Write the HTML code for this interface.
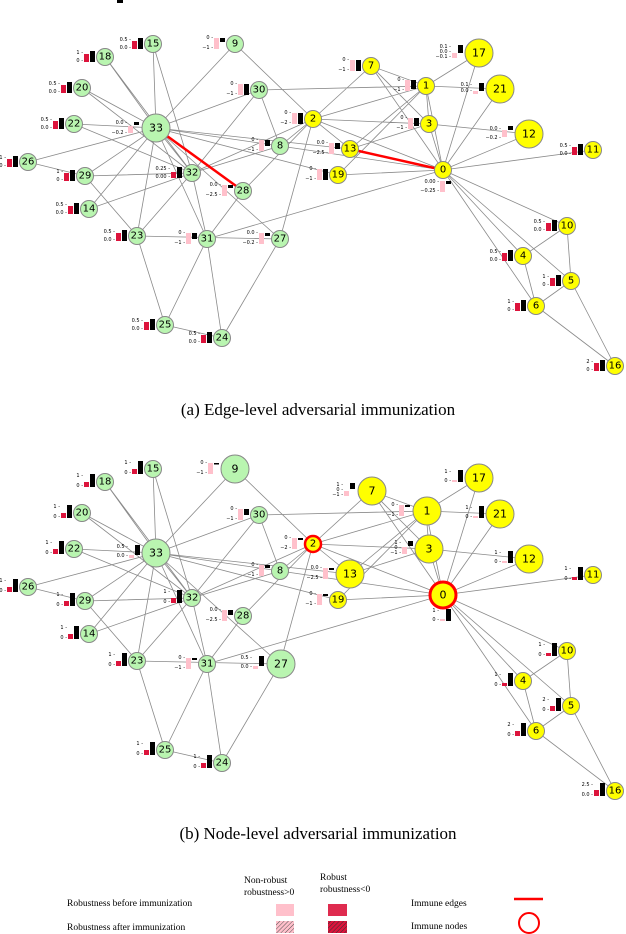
<!DOCTYPE html>
<html><head><meta charset="utf-8"><style>
body{margin:0;background:#fff}
svg{display:block}
.e{stroke:#8a8a8a;stroke-width:0.8;fill:none}
.g{fill:#b9f5b0;stroke:#888;stroke-width:1}
.y{fill:#ffff00;stroke:#888;stroke-width:1}
.n{font-family:"DejaVu Sans",sans-serif;font-size:10px;text-anchor:middle;dominant-baseline:central;fill:#000}
.b{font-size:11px}
.c{fill:#dc143c}.k{fill:#000}.p{fill:#ffc0cb}
.t{font-family:"DejaVu Sans",sans-serif;font-size:5px;text-anchor:end;fill:#000}
.cap{font-family:"Liberation Serif",serif;font-size:17px;text-anchor:middle}
.lg{font-family:"Liberation Serif",serif;font-size:9.5px}
</style></head><body>
<svg width="626" height="934" viewBox="0 0 626 934" xmlns="http://www.w3.org/2000/svg">
<defs>
<pattern id="h1" width="3" height="3" patternUnits="userSpaceOnUse" patternTransform="rotate(45)"><rect width="3" height="3" fill="#ffc0cb"/><line x1="0" y1="0" x2="0" y2="3" stroke="#555" stroke-width="1"/></pattern>
<pattern id="h2" width="3" height="3" patternUnits="userSpaceOnUse" patternTransform="rotate(45)"><rect width="3" height="3" fill="#dc143c"/><line x1="0" y1="0" x2="0" y2="3" stroke="#333" stroke-width="1"/></pattern>
<g id="E">
<path class="e" d="M443 170L426 86M443 170L313 119M443 170L429 124M443 170L523 256M443 170L571 281M443 170L536 306M443 170L371 66M443 170L280 146M443 170L567 226M443 170L593 150M443 170L529 134M443 170L479 53M443 170L338 175M443 170L500 89M443 170L207 239
M426 86L313 119M426 86L429 124M426 86L371 66M426 86L350 149M426 86L479 53M426 86L338 175M426 86L500 89M426 86L259 90
M313 119L429 124M313 119L371 66M313 119L280 146M313 119L235 44M313 119L350 149M313 119L280 239M313 119L243 191M313 119L192 173
M429 124L371 66M429 124L529 134M429 124L350 149
M523 256L536 306M523 256L567 226M571 281L536 306M571 281L567 226M571 281L615 366M536 306L615 366
M280 146L259 90M280 146L192 173M280 146L156 128M235 44L156 128M350 149L156 128
M89 209L192 173M89 209L156 128M153 44L192 173M153 44L156 128M105 57L192 173M105 57L156 128M338 175L156 128
M82 88L192 173M82 88L156 128M74 124L192 173M74 124L156 128
M137 236L165 325M137 236L280 239M137 236L85 176M137 236L192 173M137 236L156 128
M222 338L165 325M222 338L280 239M222 338L207 239M165 325L207 239
M28 162L85 176M28 162L156 128M280 239L156 128M243 191L207 239
M85 176L192 173M85 176L156 128M259 90L192 173M259 90L156 128M207 239L192 173M207 239L156 128M192 173L156 128"/>
</g>
</defs>

<!-- ===== TOP GRAPH ===== -->
<rect x="117" y="0" width="6" height="3" fill="#000"/>
<use href="#E"/>
<line x1="156" y1="128" x2="243" y2="191" stroke="#f00" stroke-width="2.5"/>
<line x1="350" y1="149" x2="443" y2="170" stroke="#f00" stroke-width="2.5"/>

<g class="t">
<!-- positive glyphs -->
<g transform="translate(143,44)"><rect class="c" x="-11" y="-3" width="5" height="8"/><rect class="k" x="-5" y="-6" width="5" height="11"/><text x="-12" y="-3">0.5 -</text><text x="-12" y="5">0.0 -</text></g>
<g transform="translate(95,57)"><rect class="c" x="-11" y="-3" width="5" height="8"/><rect class="k" x="-5" y="-6" width="5" height="11"/><text x="-12" y="-3">1 -</text><text x="-12" y="5">0 -</text></g>
<g transform="translate(72,88)"><rect class="c" x="-11" y="-3" width="5" height="8"/><rect class="k" x="-5" y="-6" width="5" height="11"/><text x="-12" y="-3">0.5 -</text><text x="-12" y="5">0.0 -</text></g>
<g transform="translate(64,124)"><rect class="c" x="-11" y="-3" width="5" height="8"/><rect class="k" x="-5" y="-6" width="5" height="11"/><text x="-12" y="-3">0.5 -</text><text x="-12" y="5">0.0 -</text></g>
<g transform="translate(18,162)"><rect class="c" x="-11" y="-3" width="5" height="8"/><rect class="k" x="-5" y="-6" width="5" height="11"/><text x="-12" y="-3">1 -</text><text x="-12" y="5">0.0 -</text></g>
<g transform="translate(75,176)"><rect class="c" x="-11" y="-3" width="5" height="8"/><rect class="k" x="-5" y="-6" width="5" height="11"/><text x="-12" y="-3">1 -</text><text x="-12" y="5">0 -</text></g>
<g transform="translate(79,209)"><rect class="c" x="-11" y="-3" width="5" height="8"/><rect class="k" x="-5" y="-6" width="5" height="11"/><text x="-12" y="-3">0.5 -</text><text x="-12" y="5">0.0 -</text></g>
<g transform="translate(127,236)"><rect class="c" x="-11" y="-3" width="5" height="8"/><rect class="k" x="-5" y="-6" width="5" height="11"/><text x="-12" y="-3">0.5 -</text><text x="-12" y="5">0.0 -</text></g>
<g transform="translate(155,325)"><rect class="c" x="-11" y="-3" width="5" height="8"/><rect class="k" x="-5" y="-6" width="5" height="11"/><text x="-12" y="-3">0.5 -</text><text x="-12" y="5">0.0 -</text></g>
<g transform="translate(212,338)"><rect class="c" x="-11" y="-3" width="5" height="8"/><rect class="k" x="-5" y="-6" width="5" height="11"/><text x="-12" y="-3">0.5 -</text><text x="-12" y="5">0.0 -</text></g>
<g transform="translate(182,173)"><rect class="c" x="-11" y="-1" width="5" height="6"/><rect class="k" x="-5" y="-6" width="5" height="11"/><text x="-12" y="-3">0.25 -</text><text x="-12" y="5">0.00 -</text></g>
<g transform="translate(583,150)"><rect class="c" x="-11" y="-3" width="5" height="8"/><rect class="k" x="-5" y="-6" width="5" height="11"/><text x="-12" y="-3">0.5 -</text><text x="-12" y="5">0.0 -</text></g>
<g transform="translate(557,226)"><rect class="c" x="-11" y="-3" width="5" height="8"/><rect class="k" x="-5" y="-6" width="5" height="11"/><text x="-12" y="-3">0.5 -</text><text x="-12" y="5">0.0 -</text></g>
<g transform="translate(513,256)"><rect class="c" x="-11" y="-3" width="5" height="8"/><rect class="k" x="-5" y="-6" width="5" height="11"/><text x="-12" y="-3">0.5 -</text><text x="-12" y="5">0.0 -</text></g>
<g transform="translate(561,281)"><rect class="c" x="-11" y="-3" width="5" height="8"/><rect class="k" x="-5" y="-6" width="5" height="11"/><text x="-12" y="-3">1 -</text><text x="-12" y="5">0 -</text></g>
<g transform="translate(526,306)"><rect class="c" x="-11" y="-3" width="5" height="8"/><rect class="k" x="-5" y="-6" width="5" height="11"/><text x="-12" y="-3">1 -</text><text x="-12" y="5">0 -</text></g>
<g transform="translate(605,366)"><rect class="c" x="-11" y="-3" width="5" height="8"/><rect class="k" x="-5" y="-6" width="5" height="11"/><text x="-12" y="-3">2 -</text><text x="-12" y="5">0 -</text></g>
<!-- negative glyphs -->
<g transform="translate(225,44)"><rect class="p" x="-11" y="-6" width="5" height="11"/><rect class="k" x="-5" y="-6" width="5" height="4"/><text x="-12" y="-5">0 -</text><text x="-12" y="5">−1 -</text></g>
<g transform="translate(249,90)"><rect class="p" x="-11" y="-6" width="5" height="11"/><rect class="k" x="-5" y="-6" width="5" height="11"/><text x="-12" y="-5">0 -</text><text x="-12" y="5">−1 -</text></g>
<g transform="translate(303,119)"><rect class="p" x="-11" y="-6" width="5" height="11"/><rect class="k" x="-5" y="-6" width="5" height="11"/><text x="-12" y="-5">0 -</text><text x="-12" y="5">−2 -</text></g>
<g transform="translate(270,146)"><rect class="p" x="-11" y="-6" width="5" height="11"/><rect class="k" x="-5" y="-6" width="5" height="6"/><text x="-12" y="-5">0 -</text><text x="-12" y="5">−1 -</text></g>
<g transform="translate(233,191)"><rect class="p" x="-11" y="-6" width="5" height="11"/><rect class="k" x="-5" y="-6" width="5" height="3"/><text x="-12" y="-5">0.0 -</text><text x="-12" y="5">−2.5 -</text></g>
<g transform="translate(197,239)"><rect class="p" x="-11" y="-6" width="5" height="11"/><rect class="k" x="-5" y="-6" width="5" height="6"/><text x="-12" y="-5">0 -</text><text x="-12" y="5">−1 -</text></g>
<g transform="translate(270,239)"><rect class="p" x="-11" y="-6" width="5" height="11"/><rect class="k" x="-5" y="-6" width="5" height="3"/><text x="-12" y="-5">0.0 -</text><text x="-12" y="5">−0.2 -</text></g>
<g transform="translate(340,149)"><rect class="p" x="-11" y="-6" width="5" height="11"/><rect class="k" x="-5" y="-6" width="5" height="6"/><text x="-12" y="-5">0.0 -</text><text x="-12" y="5">−2.5 -</text></g>
<g transform="translate(328,175)"><rect class="p" x="-11" y="-6" width="5" height="11"/><rect class="k" x="-5" y="-6" width="5" height="11"/><text x="-12" y="-5">0 -</text><text x="-12" y="5">−1 -</text></g>
<g transform="translate(361,66)"><rect class="p" x="-11" y="-6" width="5" height="11"/><rect class="k" x="-5" y="-6" width="5" height="11"/><text x="-12" y="-5">0 -</text><text x="-12" y="5">−1 -</text></g>
<g transform="translate(416,86)"><rect class="p" x="-11" y="-6" width="5" height="11"/><rect class="k" x="-5" y="-6" width="5" height="9"/><text x="-12" y="-5">0 -</text><text x="-12" y="5">−1 -</text></g>
<g transform="translate(419,124)"><rect class="p" x="-11" y="-6" width="5" height="11"/><rect class="k" x="-5" y="-6" width="5" height="8"/><text x="-12" y="-5">0 -</text><text x="-12" y="5">−1 -</text></g>
<g transform="translate(513,134)"><rect class="p" x="-11" y="-4" width="5" height="7"/><rect class="k" x="-5" y="-8" width="5" height="4"/><text x="-12" y="-4">0.0 -</text><text x="-12" y="5">−0.2 -</text></g>
<g transform="translate(463,53)"><rect class="p" x="-11" y="0" width="5" height="5"/><rect class="k" x="-5" y="-8" width="5" height="8"/><text x="-12" y="-5">0.1 -</text><text x="-12" y="0">0.0 -</text><text x="-12" y="5">−0.1 -</text></g>
<g transform="translate(484,89)"><rect class="p" x="-11" y="2" width="5" height="3"/><rect class="k" x="-5" y="-6" width="5" height="8"/><text x="-12" y="-3">0.1 -</text><text x="-12" y="3">0.0 -</text></g>
<g transform="translate(139,128)"><rect class="p" x="-11" y="-2" width="5" height="7"/><rect class="k" x="-5" y="-6" width="5" height="3"/><text x="-12" y="-4">0.0 -</text><text x="-12" y="6">−0.2 -</text></g>
<g transform="translate(451,187)"><rect class="p" x="-11" y="-6" width="5" height="11"/><rect class="k" x="-5" y="-6" width="5" height="3"/><text x="-12" y="-4">0.00 -</text><text x="-12" y="5">−0.25 -</text></g>
</g>

<g>
<circle class="g" cx="156" cy="128" r="14"/><text class="n b" x="156" y="128">33</text>
<circle class="g" cx="153" cy="44" r="8.5"/><text class="n" x="153" y="44">15</text>
<circle class="g" cx="105" cy="57" r="8.5"/><text class="n" x="105" y="57">18</text>
<circle class="g" cx="235" cy="44" r="8.5"/><text class="n" x="235" y="44">9</text>
<circle class="g" cx="82" cy="88" r="8.5"/><text class="n" x="82" y="88">20</text>
<circle class="g" cx="259" cy="90" r="8.5"/><text class="n" x="259" y="90">30</text>
<circle class="g" cx="74" cy="124" r="8.5"/><text class="n" x="74" y="124">22</text>
<circle class="g" cx="280" cy="146" r="8.5"/><text class="n" x="280" y="146">8</text>
<circle class="g" cx="28" cy="162" r="8.5"/><text class="n" x="28" y="162">26</text>
<circle class="g" cx="85" cy="176" r="8.5"/><text class="n" x="85" y="176">29</text>
<circle class="g" cx="192" cy="173" r="8.5"/><text class="n" x="192" y="173">32</text>
<circle class="g" cx="243" cy="191" r="8.5"/><text class="n" x="243" y="191">28</text>
<circle class="g" cx="89" cy="209" r="8.5"/><text class="n" x="89" y="209">14</text>
<circle class="g" cx="137" cy="236" r="8.5"/><text class="n" x="137" y="236">23</text>
<circle class="g" cx="207" cy="239" r="8.5"/><text class="n" x="207" y="239">31</text>
<circle class="g" cx="280" cy="239" r="8.5"/><text class="n" x="280" y="239">27</text>
<circle class="g" cx="165" cy="325" r="8.5"/><text class="n" x="165" y="325">25</text>
<circle class="g" cx="222" cy="338" r="8.5"/><text class="n" x="222" y="338">24</text>
<circle class="y" cx="313" cy="119" r="8.5"/><text class="n" x="313" y="119">2</text>
<circle class="y" cx="371" cy="66" r="8.5"/><text class="n" x="371" y="66">7</text>
<circle class="y" cx="426" cy="86" r="8.5"/><text class="n" x="426" y="86">1</text>
<circle class="y" cx="479" cy="53" r="14"/><text class="n b" x="479" y="53">17</text>
<circle class="y" cx="500" cy="89" r="14"/><text class="n b" x="500" y="89">21</text>
<circle class="y" cx="429" cy="124" r="8.5"/><text class="n" x="429" y="124">3</text>
<circle class="y" cx="529" cy="134" r="14"/><text class="n b" x="529" y="134">12</text>
<circle class="y" cx="350" cy="149" r="8.5"/><text class="n" x="350" y="149">13</text>
<circle class="y" cx="593" cy="150" r="8.5"/><text class="n" x="593" y="150">11</text>
<circle class="y" cx="338" cy="175" r="8.5"/><text class="n" x="338" y="175">19</text>
<circle class="y" cx="443" cy="170" r="8.5"/><text class="n" x="443" y="170">0</text>
<circle class="y" cx="567" cy="226" r="8.5"/><text class="n" x="567" y="226">10</text>
<circle class="y" cx="523" cy="256" r="8.5"/><text class="n" x="523" y="256">4</text>
<circle class="y" cx="571" cy="281" r="8.5"/><text class="n" x="571" y="281">5</text>
<circle class="y" cx="536" cy="306" r="8.5"/><text class="n" x="536" y="306">6</text>
<circle class="y" cx="615" cy="366" r="8.5"/><text class="n" x="615" y="366">16</text>
</g>

<text class="cap" x="318" y="415">(a) Edge-level adversarial immunization</text>

<!-- ===== BOTTOM GRAPH ===== -->
<g transform="translate(0,425)">
<use href="#E"/>
<g class="t">
<g transform="translate(143,44)"><rect class="c" x="-11" y="0" width="5" height="5"/><rect class="k" x="-5" y="-8" width="5" height="13"/><text x="-12" y="-5">1 -</text><text x="-12" y="5">0 -</text></g>
<g transform="translate(95,57)"><rect class="c" x="-11" y="0" width="5" height="5"/><rect class="k" x="-5" y="-8" width="5" height="13"/><text x="-12" y="-5">1 -</text><text x="-12" y="5">0 -</text></g>
<g transform="translate(72,88)"><rect class="c" x="-11" y="0" width="5" height="5"/><rect class="k" x="-5" y="-8" width="5" height="13"/><text x="-12" y="-5">1 -</text><text x="-12" y="5">0 -</text></g>
<g transform="translate(64,124)"><rect class="c" x="-11" y="0" width="5" height="5"/><rect class="k" x="-5" y="-8" width="5" height="13"/><text x="-12" y="-5">1 -</text><text x="-12" y="5">0 -</text></g>
<g transform="translate(18,162)"><rect class="c" x="-11" y="0" width="5" height="5"/><rect class="k" x="-5" y="-8" width="5" height="13"/><text x="-12" y="-5">1 -</text><text x="-12" y="5">0 -</text></g>
<g transform="translate(75,176)"><rect class="c" x="-11" y="0" width="5" height="5"/><rect class="k" x="-5" y="-8" width="5" height="13"/><text x="-12" y="-5">1 -</text><text x="-12" y="5">0 -</text></g>
<g transform="translate(79,209)"><rect class="c" x="-11" y="0" width="5" height="5"/><rect class="k" x="-5" y="-8" width="5" height="13"/><text x="-12" y="-5">1 -</text><text x="-12" y="5">0 -</text></g>
<g transform="translate(127,236)"><rect class="c" x="-11" y="0" width="5" height="5"/><rect class="k" x="-5" y="-8" width="5" height="13"/><text x="-12" y="-5">1 -</text><text x="-12" y="5">0 -</text></g>
<g transform="translate(155,325)"><rect class="c" x="-11" y="0" width="5" height="5"/><rect class="k" x="-5" y="-8" width="5" height="13"/><text x="-12" y="-5">1 -</text><text x="-12" y="5">0 -</text></g>
<g transform="translate(212,338)"><rect class="c" x="-11" y="0" width="5" height="5"/><rect class="k" x="-5" y="-8" width="5" height="13"/><text x="-12" y="-5">1 -</text><text x="-12" y="5">0 -</text></g>
<g transform="translate(182,173)"><rect class="c" x="-11" y="0" width="5" height="5"/><rect class="k" x="-5" y="-8" width="5" height="13"/><text x="-12" y="-5">1 -</text><text x="-12" y="5">0 -</text></g>
<g transform="translate(583,150)"><rect class="c" x="-11" y="2" width="5" height="3"/><rect class="k" x="-5" y="-8" width="5" height="13"/><text x="-12" y="-5">1 -</text><text x="-12" y="5">0 -</text></g>
<g transform="translate(557,226)"><rect class="c" x="-11" y="2" width="5" height="3"/><rect class="k" x="-5" y="-8" width="5" height="13"/><text x="-12" y="-5">1 -</text><text x="-12" y="5">0 -</text></g>
<g transform="translate(513,256)"><rect class="c" x="-11" y="2" width="5" height="3"/><rect class="k" x="-5" y="-8" width="5" height="13"/><text x="-12" y="-5">1 -</text><text x="-12" y="5">0 -</text></g>
<g transform="translate(561,281)"><rect class="c" x="-11" y="0" width="5" height="5"/><rect class="k" x="-5" y="-8" width="5" height="13"/><text x="-12" y="-5">2 -</text><text x="-12" y="5">0 -</text></g>
<g transform="translate(526,306)"><rect class="c" x="-11" y="0" width="5" height="5"/><rect class="k" x="-5" y="-8" width="5" height="13"/><text x="-12" y="-5">2 -</text><text x="-12" y="5">0 -</text></g>
<g transform="translate(605,366)"><rect class="c" x="-11" y="-1" width="5" height="6"/><rect class="k" x="-5" y="-8" width="5" height="13"/><text x="-12" y="-5">2.5 -</text><text x="-12" y="5">0.0 -</text></g>
<g transform="translate(264,239)"><rect class="p" x="-11" y="2" width="5" height="3"/><rect class="k" x="-5" y="-8" width="5" height="10"/><text x="-12" y="-5">0.5 -</text><text x="-12" y="4">0.0 -</text></g>
<g transform="translate(140,128)"><rect class="p" x="-11" y="2" width="5" height="3"/><rect class="k" x="-5" y="-8" width="5" height="10"/><text x="-12" y="-5">0.5 -</text><text x="-12" y="4">0.0 -</text></g>
<g transform="translate(463,53)"><rect class="p" x="-11" y="2" width="5" height="2"/><rect class="k" x="-5" y="-8" width="5" height="12"/><text x="-12" y="-5">1 -</text><text x="-12" y="4">0 -</text></g>
<g transform="translate(484,89)"><rect class="p" x="-11" y="2" width="5" height="2"/><rect class="k" x="-5" y="-8" width="5" height="12"/><text x="-12" y="-5">1 -</text><text x="-12" y="4">0 -</text></g>
<g transform="translate(513,134)"><rect class="p" x="-11" y="2" width="5" height="2"/><rect class="k" x="-5" y="-8" width="5" height="12"/><text x="-12" y="-5">1 -</text><text x="-12" y="4">0 -</text></g>
<g transform="translate(451,192)"><rect class="p" x="-11" y="2" width="5" height="2"/><rect class="k" x="-5" y="-8" width="5" height="12"/><text x="-12" y="-5">1 -</text><text x="-12" y="4">0 -</text></g>
<g transform="translate(219,44)"><rect class="p" x="-11" y="-6" width="5" height="11"/><rect class="k" x="-5" y="-6" width="5" height="1.5"/><text x="-12" y="-5">0 -</text><text x="-12" y="5">−1 -</text></g>
<g transform="translate(249,90)"><rect class="p" x="-11" y="-6" width="5" height="11"/><rect class="k" x="-5" y="-6" width="5" height="6"/><text x="-12" y="-5">0 -</text><text x="-12" y="5">−1 -</text></g>
<g transform="translate(303,119)"><rect class="p" x="-11" y="-6" width="5" height="11"/><rect class="k" x="-5" y="-6" width="5" height="2"/><text x="-12" y="-5">0 -</text><text x="-12" y="5">−2 -</text></g>
<g transform="translate(270,146)"><rect class="p" x="-11" y="-6" width="5" height="11"/><rect class="k" x="-5" y="-6" width="5" height="3"/><text x="-12" y="-5">0 -</text><text x="-12" y="5">−1 -</text></g>
<g transform="translate(233,191)"><rect class="p" x="-11" y="-6" width="5" height="11"/><rect class="k" x="-5" y="-6" width="5" height="5"/><text x="-12" y="-5">0.0 -</text><text x="-12" y="5">−2.5 -</text></g>
<g transform="translate(197,239)"><rect class="p" x="-11" y="-6" width="5" height="11"/><rect class="k" x="-5" y="-6" width="5" height="2"/><text x="-12" y="-5">0 -</text><text x="-12" y="5">−1 -</text></g>
<g transform="translate(334,149)"><rect class="p" x="-11" y="-6" width="5" height="11"/><rect class="k" x="-5" y="-6" width="5" height="2"/><text x="-12" y="-5">0.0 -</text><text x="-12" y="5">−2.5 -</text></g>
<g transform="translate(328,175)"><rect class="p" x="-11" y="-6" width="5" height="11"/><rect class="k" x="-5" y="-6" width="5" height="2"/><text x="-12" y="-5">0 -</text><text x="-12" y="5">−1 -</text></g>
<g transform="translate(355,66)"><rect class="p" x="-11" y="0" width="5" height="5"/><rect class="k" x="-5" y="-8" width="5" height="6"/><text x="-12" y="-5">1 -</text><text x="-12" y="0">0 -</text><text x="-12" y="5">−1 -</text></g>
<g transform="translate(410,86)"><rect class="p" x="-11" y="-6" width="5" height="11"/><rect class="k" x="-5" y="-6" width="5" height="2"/><text x="-12" y="-5">0 -</text><text x="-12" y="5">−1 -</text></g>
<g transform="translate(413,124)"><rect class="p" x="-11" y="-2" width="5" height="7"/><rect class="k" x="-5" y="-8" width="5" height="5"/><text x="-12" y="-5">1 -</text><text x="-12" y="0">0 -</text><text x="-12" y="5">−1 -</text></g>
</g>

<g>
<circle class="g" cx="156" cy="128" r="14"/><text class="n b" x="156" y="128">33</text>
<circle class="g" cx="153" cy="44" r="8.5"/><text class="n" x="153" y="44">15</text>
<circle class="g" cx="105" cy="57" r="8.5"/><text class="n" x="105" y="57">18</text>
<circle class="g" cx="235" cy="44" r="14"/><text class="n b" x="235" y="44">9</text>
<circle class="g" cx="82" cy="88" r="8.5"/><text class="n" x="82" y="88">20</text>
<circle class="g" cx="259" cy="90" r="8.5"/><text class="n" x="259" y="90">30</text>
<circle class="g" cx="74" cy="124" r="8.5"/><text class="n" x="74" y="124">22</text>
<circle class="g" cx="280" cy="146" r="8.5"/><text class="n" x="280" y="146">8</text>
<circle class="g" cx="28" cy="162" r="8.5"/><text class="n" x="28" y="162">26</text>
<circle class="g" cx="85" cy="176" r="8.5"/><text class="n" x="85" y="176">29</text>
<circle class="g" cx="192" cy="173" r="8.5"/><text class="n" x="192" y="173">32</text>
<circle class="g" cx="243" cy="191" r="8.5"/><text class="n" x="243" y="191">28</text>
<circle class="g" cx="89" cy="209" r="8.5"/><text class="n" x="89" y="209">14</text>
<circle class="g" cx="137" cy="236" r="8.5"/><text class="n" x="137" y="236">23</text>
<circle class="g" cx="207" cy="239" r="8.5"/><text class="n" x="207" y="239">31</text>
<circle class="g" cx="281" cy="239" r="14"/><text class="n b" x="281" y="239">27</text>
<circle class="g" cx="165" cy="325" r="8.5"/><text class="n" x="165" y="325">25</text>
<circle class="g" cx="222" cy="338" r="8.5"/><text class="n" x="222" y="338">24</text>
<circle cx="313" cy="119" r="8" fill="#ff0" stroke="#f00" stroke-width="2.5"/><text class="n" x="313" y="119">2</text>
<circle class="y" cx="372" cy="66" r="14"/><text class="n b" x="372" y="66">7</text>
<circle class="y" cx="427" cy="86" r="14"/><text class="n b" x="427" y="86">1</text>
<circle class="y" cx="479" cy="53" r="14"/><text class="n b" x="479" y="53">17</text>
<circle class="y" cx="500" cy="89" r="14"/><text class="n b" x="500" y="89">21</text>
<circle class="y" cx="429" cy="124" r="14"/><text class="n b" x="429" y="124">3</text>
<circle class="y" cx="529" cy="134" r="14"/><text class="n b" x="529" y="134">12</text>
<circle class="y" cx="350" cy="149" r="14"/><text class="n b" x="350" y="149">13</text>
<circle class="y" cx="593" cy="150" r="8.5"/><text class="n" x="593" y="150">11</text>
<circle class="y" cx="338" cy="175" r="8.5"/><text class="n" x="338" y="175">19</text>
<circle cx="443" cy="170" r="13" fill="#ff0" stroke="#f00" stroke-width="3"/><text class="n b" x="443" y="170">0</text>
<circle class="y" cx="567" cy="226" r="8.5"/><text class="n" x="567" y="226">10</text>
<circle class="y" cx="523" cy="256" r="8.5"/><text class="n" x="523" y="256">4</text>
<circle class="y" cx="571" cy="281" r="8.5"/><text class="n" x="571" y="281">5</text>
<circle class="y" cx="536" cy="306" r="8.5"/><text class="n" x="536" y="306">6</text>
<circle class="y" cx="615" cy="366" r="8.5"/><text class="n" x="615" y="366">16</text>
</g>
</g>

<text class="cap" x="318" y="839">(b) Node-level adversarial immunization</text>

<!-- Legend -->
<g class="lg">
<text x="244" y="883">Non-robust</text>
<text x="244" y="895">robustness&gt;0</text>
<text x="320" y="880">Robust</text>
<text x="320" y="892">robustness&lt;0</text>
<text x="67" y="906">Robustness before immunization</text>
<text x="67" y="930">Robustness after immunization</text>
<text x="411" y="906">Immune edges</text>
<text x="411" y="929">Immune nodes</text>
</g>
<rect x="276" y="904" width="18" height="12" fill="#ffc0cb"/>
<rect x="328" y="904" width="19" height="12" fill="#dc143c" opacity="0.9"/>
<rect x="276" y="921" width="18" height="12" fill="url(#h1)"/>
<rect x="328" y="921" width="19" height="12" fill="url(#h2)"/>
<line x1="514" y1="899" x2="543" y2="899" stroke="#f00" stroke-width="2.5"/>
<circle cx="529" cy="923" r="10" fill="none" stroke="#f00" stroke-width="2"/>
</svg>
</body></html>
